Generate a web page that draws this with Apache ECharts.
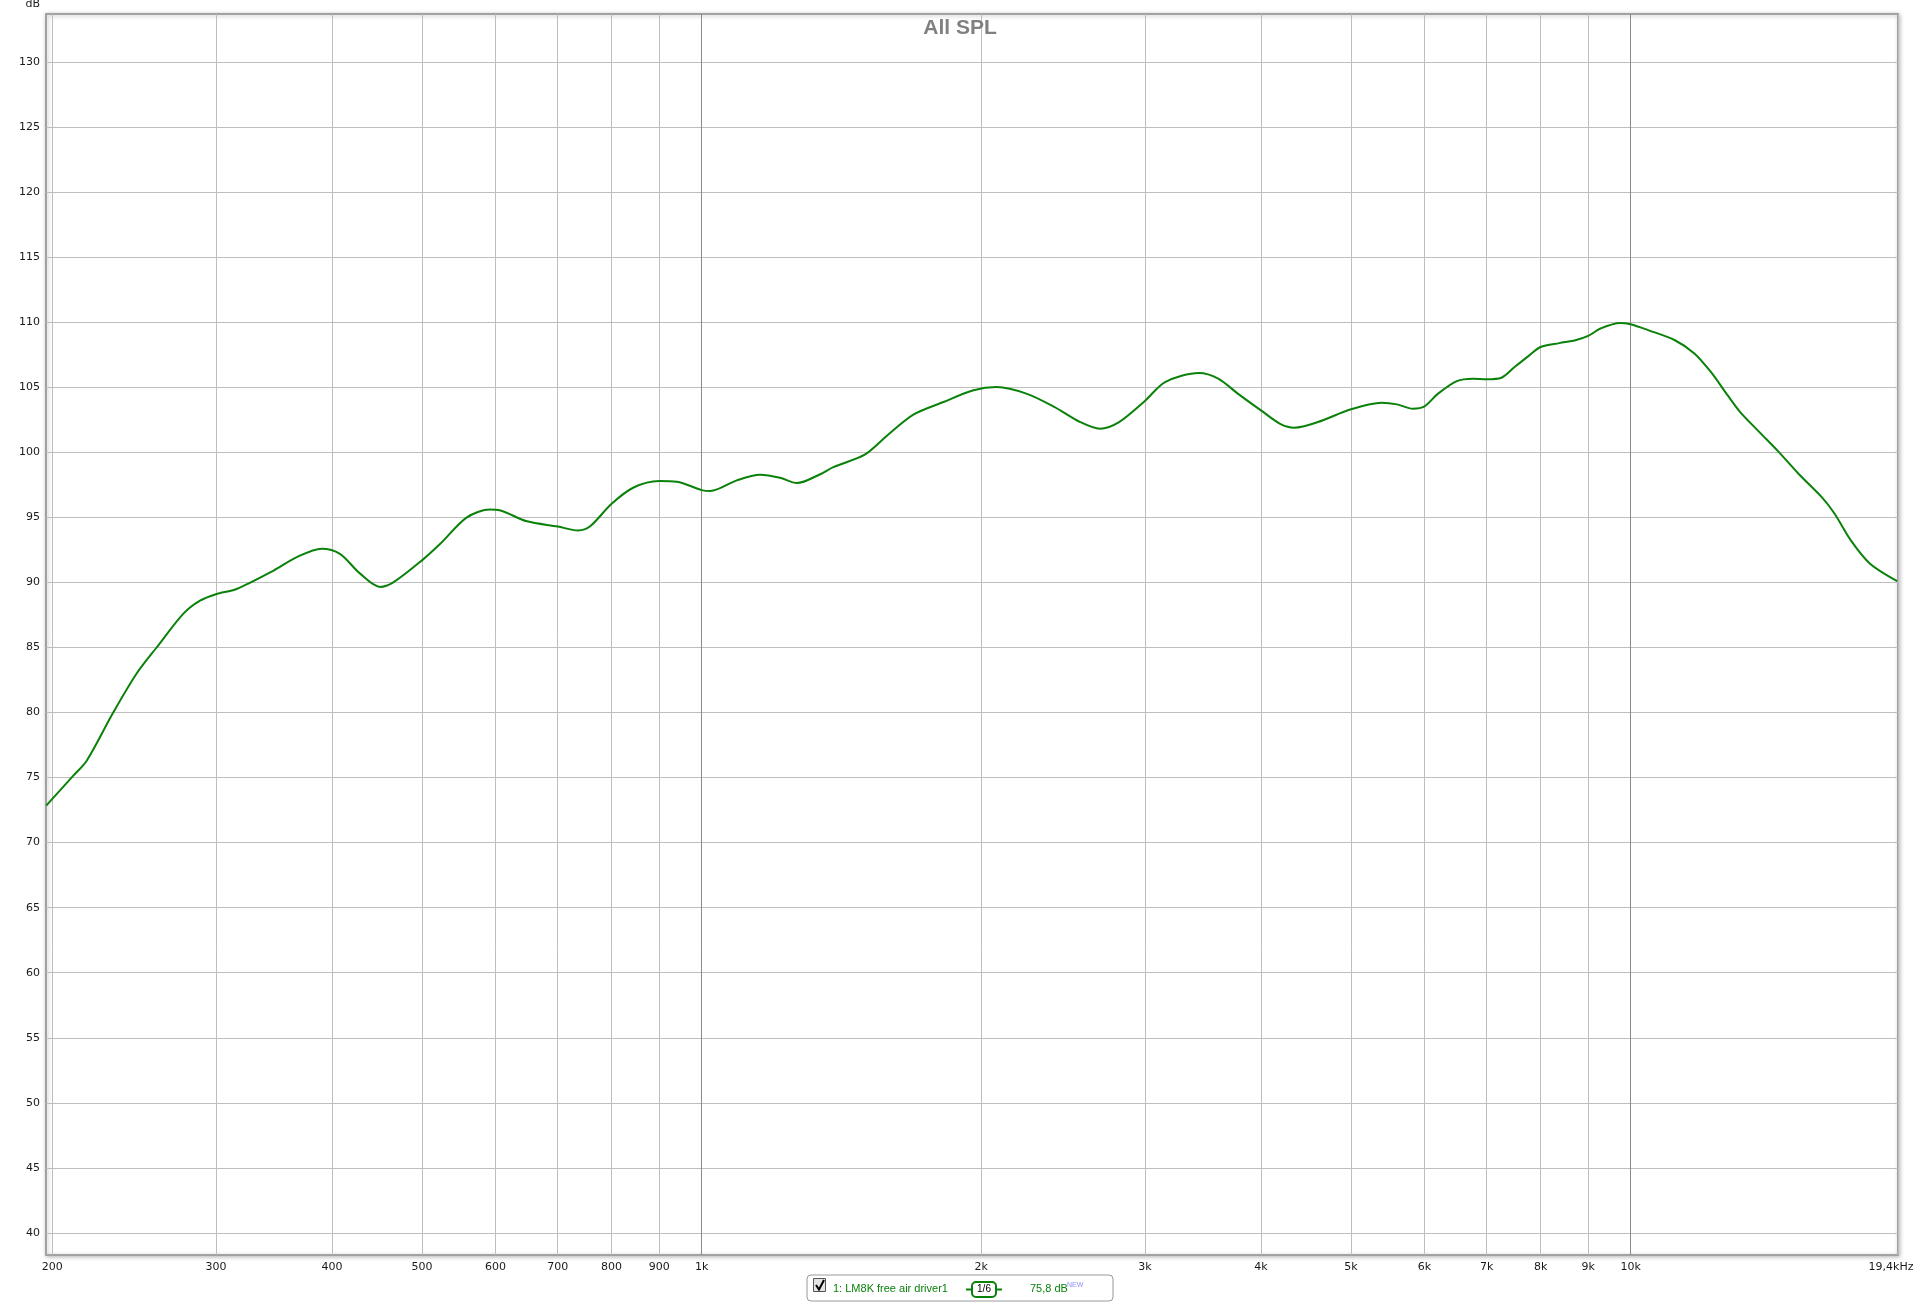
<!DOCTYPE html>
<html>
<head>
<meta charset="utf-8">
<script src="https://cdn.jsdelivr.net/npm/echarts@6/dist/echarts.min.js"></script>
<style>html,body{margin:0;padding:0;background:#fff}#c{width:1920px;height:1303px}</style>
</head>
<body>
<div id="c"></div>
<script>
// ---- data (frequency in Hz, level in dB) ----
const freqHz = [197, 210.7, 217.8, 232.6, 246.5, 259, 276.8, 288.4, 300, 315.8, 345.8, 366.6, 390, 408, 428.6, 450.8, 465.6, 500, 522.8, 558.8, 591.6, 606, 648.6, 700, 736, 758, 800, 844.8, 900, 940.6, 1000, 1022, 1091, 1156, 1214, 1266, 1340, 1386, 1498, 1584, 1690, 1821, 1962, 2078, 2240, 2396, 2556, 2684, 2814, 3000, 3154, 3430, 3598, 3780, 4000, 4194, 4346, 4606, 5000, 5396, 5606, 5828, 6000, 6200, 6500, 6760, 7000, 7260, 7500, 7780, 8000, 8380, 8720, 9000, 9280, 9740, 10000, 10460, 11160, 11720, 12200, 12720, 13120, 13760, 14440, 15160, 16060, 16580, 17260, 18100, 19360];
const splDb = [72.85, 75.15, 76.3, 80.0, 83.0, 85.0, 87.6, 88.6, 89.1, 89.5, 90.9, 91.95, 92.6, 92.2, 90.7, 89.65, 90.0, 91.7, 92.95, 95.0, 95.6, 95.55, 94.7, 94.3, 94.0, 94.3, 96.05, 97.3, 97.8, 97.75, 97.1, 97.03, 97.85, 98.28, 98.05, 97.64, 98.3, 98.87, 99.82, 101.3, 102.9, 103.87, 104.77, 105.02, 104.5, 103.5, 102.33, 101.82, 102.33, 103.95, 105.4, 106.1, 105.67, 104.5, 103.23, 102.2, 101.9, 102.33, 103.31, 103.82, 103.69, 103.36, 103.54, 104.5, 105.48, 105.67, 105.62, 105.74, 106.56, 107.46, 108.1, 108.4, 108.62, 108.95, 109.52, 109.95, 109.85, 109.38, 108.62, 107.59, 106.18, 104.38, 103.1, 101.56, 100.02, 98.36, 96.56, 95.28, 93.23, 91.44, 90.1];
const xTicks = [200, 300, 400, 500, 600, 700, 800, 900, 1000, 2000, 3000, 4000, 5000, 6000, 7000, 8000, 9000, 10000, 19400];
const xDecades = [1000, 10000];
const yTicks = [40, 45, 50, 55, 60, 65, 70, 75, 80, 85, 90, 95, 100, 105, 110, 115, 120, 125, 130];
const titleText = 'All SPL';
const seriesName = '1: LM8K free air driver1';
const smoothingText = '1/6';
const levelText = '75,8 dB';

const chart = echarts.init(document.getElementById('c'), null, {renderer: 'canvas'});
const lineData = freqHz.map((f, i) => [f, splDb[i]]);
const green = '#0a820a';
const axisFont = 'DejaVu Sans';

function fmtX(v) {
  if (Math.abs(v - 19400) < 1) return '{e|19,4kHz}';
  if (v >= 1000) return (v / 1000) + 'k';
  return String(v);
}

chart.setOption({
  animation: false,
  backgroundColor: '#ffffff',
  title: {
    text: titleText, left: 'center', top: 13,
    textStyle: {fontFamily: 'Liberation Sans', fontSize: 21, fontWeight: 'bold', color: '#808080'}
  },
  grid: {
    left: 46, top: 14, right: 22, bottom: 48,
    show: true, backgroundColor: '#ffffff',
    borderColor: '#a2a2a2', borderWidth: 2,
    shadowColor: 'rgba(0,0,0,0.25)', shadowBlur: 4, shadowOffsetX: 1, shadowOffsetY: 1,
    outerBoundsMode: 'none'
  },
  xAxis: {
    type: 'log', logBase: 10, min: 196.9, max: 19400,
    axisLine: {show: false}, axisTick: {show: false, customValues: xTicks},
    axisLabel: {
      customValues: xTicks, formatter: fmtX, margin: 7,
      fontFamily: axisFont, fontSize: 11, color: '#1a1a1a',
      showMinLabel: true, showMaxLabel: true, hideOverlap: false,
      rich: {e: {fontFamily: axisFont, fontSize: 11, color: '#1a1a1a', padding: [0, 0, 0, -14]}}
    },
    splitLine: {show: true, lineStyle: {color: '#bdbdbd', width: 1}}
  },
  yAxis: {
    type: 'value', min: 38.3, max: 133.7,
    name: 'dB', nameLocation: 'end', nameGap: 4,
    nameTextStyle: {fontFamily: axisFont, fontSize: 11, color: '#1a1a1a', align: 'right', verticalAlign: 'bottom', padding: [0, 6, 0, 0]},
    axisLine: {show: false}, axisTick: {show: false, customValues: yTicks},
    axisLabel: {customValues: yTicks, margin: 6, fontFamily: axisFont, fontSize: 11, color: '#1a1a1a'},
    splitLine: {show: true, lineStyle: {color: '#bdbdbd', width: 1}}
  },
  series: [{
    type: 'line', name: seriesName, data: lineData,
    showSymbol: false, smooth: 0.3,
    lineStyle: {color: green, width: 2},
    silent: true, z: 5,
    markLine: {
      silent: true, symbol: ['none', 'none'], label: {show: false},
      lineStyle: {color: '#8a8a8a', width: 1, type: 'solid'},
      data: xDecades.map(v => ({xAxis: v})), z: 1
    }
  }],
  graphic: [
    {type: 'rect', shape: {x: 807, y: 1275, width: 306, height: 26, r: 4}, style: {fill: '#ffffff', stroke: '#9a9a9a', lineWidth: 1}},
    {type: 'rect', shape: {x: 813.5, y: 1278.5, width: 12, height: 13}, style: {fill: '#e4e4e4', stroke: '#555', lineWidth: 1}},
    {type: 'polyline', shape: {points: [[816, 1285], [819, 1289.5], [824, 1280]]}, style: {stroke: '#000', lineWidth: 2, fill: null}},
    {type: 'text', x: 833, y: 1289, style: {text: seriesName, fill: green, font: '11px "Liberation Sans"', verticalAlign: 'middle'}},
    {type: 'line', shape: {x1: 966, y1: 1289.5, x2: 1002, y2: 1289.5}, style: {stroke: green, lineWidth: 2}},
    {type: 'rect', shape: {x: 972, y: 1282, width: 24, height: 15, r: 4}, style: {fill: '#ffffff', stroke: green, lineWidth: 2}},
    {type: 'text', x: 984, y: 1289.5, style: {text: smoothingText, fill: '#000', font: '10px "Liberation Sans"', align: 'center', verticalAlign: 'middle'}},
    {type: 'text', x: 1030, y: 1289, style: {text: levelText, fill: green, font: '11px "Liberation Sans"', verticalAlign: 'middle'}},
    {type: 'text', x: 1067, y: 1282, style: {text: 'NEW', fill: '#8f8fff', font: '7px "Liberation Sans"', verticalAlign: 'top'}}
  ]
});
</script>
</body>
</html>
